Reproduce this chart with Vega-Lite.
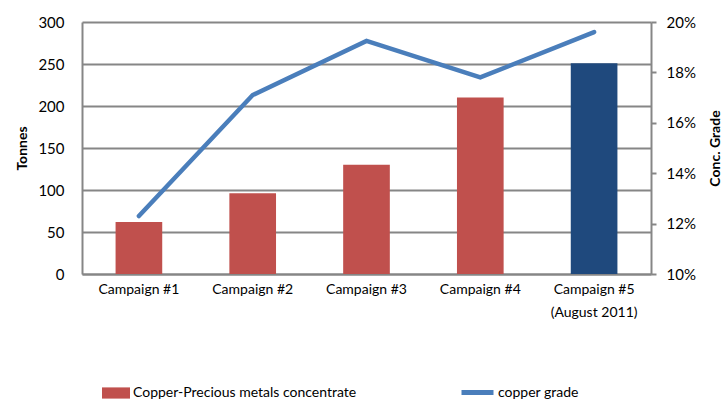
{
  "$schema": "https://vega.github.io/schema/vega-lite/v6.json",
  "autosize": "none",
  "width": 569,
  "height": 252,
  "padding": {"left": 82, "top": 22, "right": 74, "bottom": 125},
  "background": "white",
  "data": {
    "values": [
      {"campaign": "Campaign #1", "tonnes": 62, "grade": 0.123},
      {"campaign": "Campaign #2", "tonnes": 96, "grade": 0.171},
      {"campaign": "Campaign #3", "tonnes": 130, "grade": 0.1925},
      {"campaign": "Campaign #4", "tonnes": 210, "grade": 0.178},
      {"campaign": "Campaign #5\n(August 2011)", "tonnes": 251, "grade": 0.196}
    ]
  },
  "encoding": {
    "x": {
      "field": "campaign",
      "type": "nominal",
      "sort": null,
      "scale": {"paddingInner": 0.59, "paddingOuter": 0.295},
      "axis": {
        "title": null,
        "labelAngle": 0,
        "ticks": false,
        "domain": true,
        "grid": false,
        "labelPadding": 8,
        "labelFontSize": 14,
        "labelLineHeight": 23,
        "labelExpr": "split(datum.value, '\\n')"
      }
    }
  },
  "layer": [
    {
      "mark": {"type": "bar"},
      "encoding": {
        "y": {
          "field": "tonnes",
          "type": "quantitative",
          "scale": {"domain": [0, 300]},
          "axis": {
            "title": "Tonnes",
            "values": [0, 50, 100, 150, 200, 250, 300],
            "ticks": false,
            "labelPadding": 18,
            "grid": true,
            "titlePadding": 8
          }
        },
        "fill": {
          "condition": {"test": "indexof(datum.campaign, '#5') >= 0", "value": "#1F497D"},
          "datum": "Copper-Precious metals concentrate",
          "scale": {"range": ["#C0504D"]},
          "legend": {
            "title": null,
            "orient": "none",
            "legendX": 20,
            "legendY": 357,
            "symbolType": "M-1,-0.4H1V0.4H-1Z",
            "symbolSize": 784,
            "symbolStrokeWidth": 0,
            "labelOffset": 3,
            "labelFontSize": 14,
            "labelLimit": 0,
            "labelFont": "Lato",
            "labelColor": "black",
            "padding": 0
          }
        }
      }
    },
    {
      "mark": {"type": "line", "strokeWidth": 4.5, "strokeCap": "round", "strokeJoin": "miter"},
      "encoding": {
        "y": {
          "field": "grade",
          "type": "quantitative",
          "scale": {"domain": [0.1, 0.2]},
          "axis": {
            "orient": "right",
            "title": "Conc. Grade",
            "titleAngle": 270,
            "titleBaseline": "top",
            "values": [0.1, 0.12, 0.14, 0.16, 0.18, 0.2],
            "format": ".0%",
            "ticks": true,
            "tickSize": 5,
            "tickWidth": 2,
            "tickColor": "#868686",
            "labelPadding": 10,
            "grid": false,
            "titlePadding": 13
          }
        },
        "stroke": {
          "datum": "copper grade",
          "scale": {"range": ["#4A7EBB"]},
          "legend": {
            "title": null,
            "orient": "none",
            "legendX": 377,
            "legendY": 352,
            "symbolType": "stroke",
            "symbolSize": 1024,
            "symbolStrokeWidth": 5,
            "labelOffset": 2,
            "labelFontSize": 14,
            "labelLimit": 0,
            "labelFont": "Lato",
            "labelColor": "black",
            "padding": 0
          }
        }
      }
    }
  ],
  "resolve": {"scale": {"y": "independent", "fill": "independent", "stroke": "independent"}},
  "config": {
    "view": {"stroke": null},
    "font": "Lato",
    "axis": {
      "domainColor": "#868686",
      "domainWidth": 2,
      "gridColor": "#868686",
      "gridWidth": 2,
      "labelFont": "Lato",
      "labelFontSize": 15,
      "labelColor": "black",
      "titleFont": "Lato",
      "titleFontSize": 14,
      "titleFontWeight": "bold",
      "titleColor": "black"
    }
  }
}
